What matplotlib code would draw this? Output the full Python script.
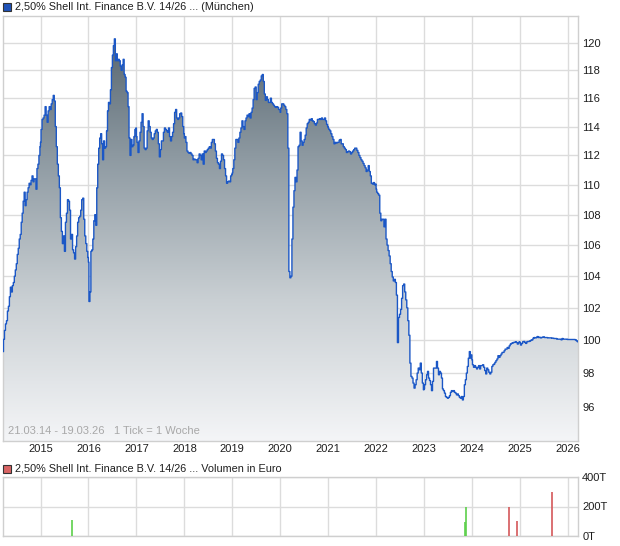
import numpy as np
import pandas as pd
import matplotlib
matplotlib.use("Agg")
import matplotlib.pyplot as plt
import matplotlib.dates as mdates
from matplotlib.patches import Rectangle
from matplotlib.colors import LinearSegmentedColormap
from matplotlib.ticker import FixedLocator, FixedFormatter, NullLocator

plt.rcParams["font.family"] = ["Liberation Sans", "DejaVu Sans"]

W, H = 620, 546

# weekly prices (Muenchen), one list per calendar year
p2014 = [99.3, 100.05, 100.6, 101.0, 101.2, 101.8, 102.1, 102.7, 103.3, 103.0, 103.4, 103.6,
         104.0, 104.4, 104.8, 105.4, 105.8, 106.4, 106.7, 107.5, 108.1, 108.9, 109.5, 108.6,
         109.0, 109.5, 109.8, 110.1, 110.0, 110.3, 110.6, 110.2, 110.4, 110.4, 109.7, 111.1,
         111.4, 112.0, 112.6]
p2015 = [112.9, 113.8, 114.5, 114.6, 114.8, 115.4, 114.8, 114.3, 115.1, 115.4, 115.2, 115.6,
         115.9, 116.2, 115.8, 114.0, 112.6, 111.4, 110.6, 109.8, 107.8, 106.9, 106.1, 106.6,
         105.6, 107.5, 108.1, 109.0, 108.9, 108.3, 106.4, 106.7, 105.7, 105.5, 105.1, 105.9,
         106.6, 107.5, 107.8, 107.9, 108.3, 109.0, 109.1, 107.7, 106.6, 106.1, 105.6, 105.2]
p2016 = [104.9, 102.4, 103.0, 105.6, 105.7, 106.4, 107.6, 108.0, 107.3, 109.8, 111.4, 112.5,
         113.2, 113.5, 112.8, 111.7, 113.0, 112.5, 112.6, 113.7, 115.1, 115.7, 115.6, 116.6,
         118.2, 119.1, 119.8, 120.3, 118.7, 119.2, 118.7, 118.8, 118.7, 118.3, 118.0, 118.4,
         118.8, 117.7, 117.5, 116.5, 116.4, 115.4, 113.2, 112.0, 113.1, 112.6, 112.7, 113.3,
         113.8, 113.9]
p2017 = [113.3, 112.9, 112.2, 113.0, 113.6, 114.3, 114.9, 114.0, 112.5, 112.4, 112.5, 113.7,
         114.4, 114.0, 113.6, 113.2, 113.1, 113.2, 113.5, 113.7, 113.8, 113.6, 112.8, 111.9,
         112.4, 113.0, 113.0, 113.6, 113.9, 113.8, 113.7, 113.6, 113.9, 113.3, 113.0, 113.3,
         113.6, 114.2, 115.0, 115.2, 114.6, 114.5, 114.6, 114.9, 114.95, 114.7, 114.0, 113.5]
p2018 = [113.2, 113.3, 112.9, 112.3, 112.2, 112.15, 112.2, 112.1, 112.0, 111.7, 111.75, 111.7,
         111.7, 111.5, 111.8, 112.1, 112.0, 111.7, 112.1, 111.4, 112.3, 112.2, 112.3, 112.4,
         112.5, 112.6, 112.5, 112.9, 113.1, 113.1, 112.8, 112.3, 111.8, 111.5, 111.4, 111.1,
         111.6, 112.1, 112.0, 111.7, 111.1, 110.6, 110.1, 110.2, 110.25, 110.2, 110.6, 110.7]
p2019 = [110.8, 111.1, 111.7, 112.5, 113.1, 113.1, 112.9, 113.2, 113.6, 113.9, 114.4, 114.0,
         113.8, 114.4, 114.6, 114.8, 114.7, 114.9, 114.6, 115.0, 115.3, 115.9, 116.7, 116.8,
         115.9, 116.4, 117.0, 117.2, 117.3, 117.6, 117.7, 117.2, 116.3, 115.85, 116.1, 115.9,
         115.7, 115.7, 116.0, 115.7, 115.6, 115.5, 115.4, 115.35, 115.4, 115.35, 115.2, 115.2]
p2020 = [115.0, 115.3, 115.6, 115.6, 115.5, 115.4, 115.2, 114.9, 112.5, 104.3, 103.9, 104.0,
         106.4, 108.5, 109.6, 110.5, 110.2, 111.0, 112.6, 112.7, 113.6, 113.0, 112.7, 112.9,
         113.1, 113.4, 113.9, 114.2, 114.3, 114.5, 114.45, 114.55, 114.4, 114.35, 114.2, 114.1,
         114.25, 114.5, 114.5, 114.55, 114.5, 114.6, 114.5, 114.5, 114.6, 114.4, 114.15, 114.0]
p2021 = [113.9, 113.8, 113.7, 113.5, 113.3, 113.1, 112.8, 112.9, 112.85, 112.9, 112.9, 113.05,
         113.1, 112.8, 112.8, 112.6, 112.5, 112.4, 112.2, 112.25, 112.3, 112.25, 112.1, 112.2,
         112.3, 112.4, 112.5, 112.5, 112.35, 112.2, 112.0, 111.85, 111.7, 111.6, 111.45, 111.3,
         111.15, 110.9, 111.0, 111.3, 110.9, 110.6, 110.1, 110.05, 110.15, 110.0, 110.05]
p2022 = [109.7, 109.5, 109.4, 109.3, 108.1, 107.6, 107.7, 107.7, 107.2, 107.7, 106.4, 106.0,
         105.65, 105.3, 104.8, 104.3, 103.95, 103.7, 103.8, 103.6, 102.8, 99.85, 101.4, 101.6,
         101.9, 102.6, 103.4, 103.5, 103.0, 102.5, 102.0, 101.2, 100.3, 98.6, 97.8, 97.7,
         97.4, 97.1, 97.3, 97.6, 98.0, 98.3, 98.2, 98.6, 98.0, 97.4, 97.0]
p2023 = [97.05, 97.3, 97.6, 97.9, 98.1, 97.7, 97.55, 97.3, 96.95, 97.5, 98.3, 98.3,
         98.3, 98.7, 98.3, 97.9, 98.1, 98.0, 97.7, 97.05, 96.95, 96.8, 96.6, 96.55,
         96.5, 96.55, 96.65, 96.85, 96.95, 96.9, 96.95, 96.85, 96.8, 96.7, 96.75, 96.65,
         96.55, 96.5, 96.6, 96.4, 96.6, 97.3, 97.6, 98.0, 98.4, 98.9, 99.3, 98.9, 99.1]
p2024 = [98.8, 98.5, 98.35, 98.45, 98.35, 98.25, 98.35, 98.45, 98.25, 98.45, 98.45, 98.5,
         98.35, 98.15, 97.95, 98.3, 98.2, 98.05, 97.95, 98.05, 98.4, 98.5, 98.55, 98.65,
         98.75, 98.85, 99.05, 98.95, 99.05, 99.15, 99.25, 99.25, 99.35, 99.45, 99.45, 99.55,
         99.5, 99.65, 99.75, 99.8, 99.82, 99.86, 99.86, 99.9, 99.86, 99.76, 99.86, 99.9]
p2025 = [99.82, 99.7, 99.8, 99.9, 99.92, 99.86, 99.8, 99.9, 99.92, 99.92, 99.96, 100.0,
         100.02, 100.12, 100.16, 100.14, 100.16, 100.22, 100.16, 100.18, 100.14, 100.16, 100.18, 100.2,
         100.16, 100.16, 100.16, 100.14, 100.14, 100.14, 100.14, 100.12, 100.12, 100.1, 100.1, 100.1,
         100.06, 100.06, 100.06, 100.06, 100.02, 100.1, 100.06, 100.06, 100.06, 100.06, 100.04]
p2026 = [100.04, 100.04, 100.04, 100.04, 100.04, 100.04, 100.04, 100.02, 99.96, 99.9]

first_day, last_day = "2014-03-21", "2026-03-19"
years = list(range(2014, 2027))
yearly = [p2014, p2015, p2016, p2017, p2018, p2019, p2020, p2021, p2022, p2023, p2024, p2025, p2026]

# volume in thousand euro (green = up week, red = down week)
vol_up_dates = ["2015-08-28", "2023-11-06", "2023-11-13"]
vol_up = [110, 95, 200]
vol_down_dates = ["2024-10-11", "2024-12-13", "2025-09-05"]
vol_down = [200, 104, 300]

yticks = [96, 98, 100, 102, 104, 106, 108, 110, 112, 114, 116, 118, 120]

# build the weekly date axis year by year
parts = []
for y, vals in zip(years, yearly):
    s = first_day if y == years[0] else f"{y}-01-01"
    e = last_day if y == years[-1] else f"{y}-12-31"
    parts.append(pd.Series(vals, index=pd.date_range(s, e, periods=len(vals))))
price = pd.concat(parts)
dates = price.index.to_numpy()
values = price.to_numpy()

x0, x1 = pd.Timestamp(first_day), pd.Timestamp(last_day)
GRID = "#dcdcdc"
FRAME = "#cfcfcf"
TXT = "#1e1e1e"

fig = plt.figure(figsize=(W / 100, H / 100), dpi=100)
fig.patch.set_facecolor("white")

# ---- price panel ----
ax = fig.add_axes([3 / W, 1 - 441 / H, 575 / W, 425 / H])
ax.set_yscale("log")

grad = np.linspace(1, 0, 256).reshape(-1, 1)
cmap = LinearSegmentedColormap.from_list("fill", ["#f4f5f7", "#c9cfd3", "#8e9aa2", "#4f5e68"])
im = ax.imshow(grad, extent=[0, 1, 0, 1], transform=ax.transAxes, aspect="auto",
               cmap=cmap, zorder=1, interpolation="bilinear")
poly = ax.fill_between(dates, values, 90, lw=0, step="mid")
clip = poly.get_paths()[0]
poly.remove()
im.set_clip_path(clip, transform=ax.transData)

ax.plot(dates, values, color="#1b57c6", lw=1.0, drawstyle="steps-mid", zorder=3)

ax.set_xlim(x0, x1)
ax.set_ylim(94.0, 122.0)
ax.set_autoscale_on(False)

ax.yaxis.set_major_locator(FixedLocator(yticks))
ax.yaxis.set_major_formatter(FixedFormatter([str(t) for t in yticks]))
ax.yaxis.set_minor_locator(NullLocator())
ax.yaxis.tick_right()
ax.xaxis.set_major_locator(mdates.YearLocator())
ax.xaxis.set_major_formatter(mdates.DateFormatter("%Y"))
ax.xaxis.set_minor_locator(NullLocator())
ax.tick_params(axis="both", length=0, labelsize=8, colors=TXT)
ax.tick_params(axis="y", pad=3)
ax.tick_params(axis="x", pad=2.5)
ax.grid(True, color=GRID, lw=1)
ax.set_axisbelow(True)
for sp in ax.spines.values():
    sp.set_color(FRAME)
    sp.set_linewidth(1)

ax.text(0.009, 0.012, "21.03.14 - 19.03.26   1 Tick = 1 Woche", transform=ax.transAxes,
        ha="left", va="bottom", fontsize=8, color="#a8a8a8", zorder=4)

# ---- volume panel ----
ax2 = fig.add_axes([3 / W, 1 - 536 / H, 575 / W, 59 / H])
ax2.vlines(pd.to_datetime(vol_up_dates), 0, vol_up, color="#5ccf4a", lw=1.2, zorder=3)
ax2.vlines(pd.to_datetime(vol_down_dates), 0, vol_down, color="#d4585a", lw=1.2, zorder=3)
ax2.set_xlim(x0, x1)
ax2.set_ylim(0, 400)
ax2.set_yticks([0, 200, 400])
ax2.set_yticklabels(["0T", "200T", "400T"])
ax2.yaxis.tick_right()
ax2.xaxis.set_major_locator(mdates.YearLocator())
ax2.tick_params(axis="x", labelbottom=False, length=0)
ax2.tick_params(axis="y", length=0, labelsize=8, colors=TXT, pad=3)
ax2.grid(True, color=GRID, lw=1)
ax2.set_axisbelow(True)
for sp in ax2.spines.values():
    sp.set_color(FRAME)
    sp.set_linewidth(1)

# ---- legend lines ----
fig.add_artist(Rectangle((3 / W, 1 - 11 / H), 8 / W, 8 / H, transform=fig.transFigure,
                         facecolor="#1f52b8", edgecolor="#333333", lw=0.8))
fig.text(15 / W, 1 - 6.5 / H, "2,50% Shell Int. Finance B.V. 14/26 ... (München)",
         ha="left", va="center", fontsize=7.8, color=TXT)
fig.add_artist(Rectangle((3 / W, 1 - 473 / H), 8 / W, 8 / H, transform=fig.transFigure,
                         facecolor="#d96464", edgecolor="#333333", lw=0.8))
fig.text(15 / W, 1 - 468.5 / H, "2,50% Shell Int. Finance B.V. 14/26 ... Volumen in Euro",
         ha="left", va="center", fontsize=7.8, color=TXT)

fig.savefig("out.png", dpi=100, facecolor="white")
